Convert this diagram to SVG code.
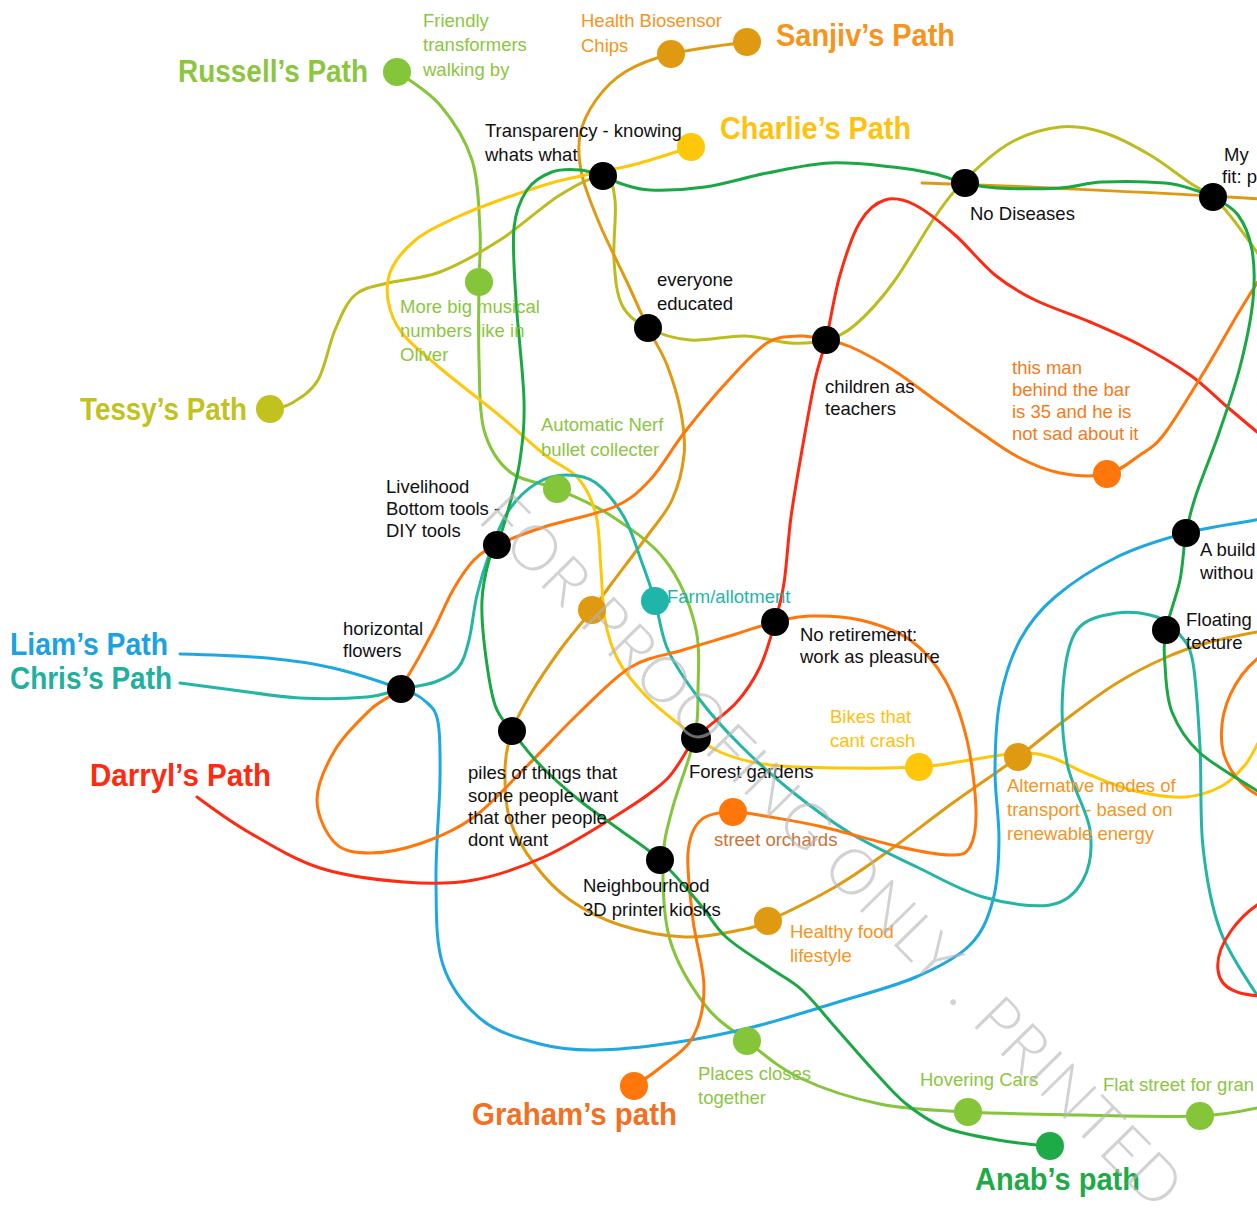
<svg xmlns="http://www.w3.org/2000/svg" width="1257" height="1208" viewBox="0 0 1257 1208">
<style>
.ln{fill:none;stroke-width:3;stroke-linecap:round;stroke-linejoin:round}
.russell{stroke:#84c53a}.tessy{stroke:#bcbc1e}.sanjiv{stroke:#df9a12}.charlie{stroke:#ffc70a}
.liam{stroke:#1ea8e1}.chris{stroke:#23b5a6}.darryl{stroke:#ff2a12}.graham{stroke:#ff760a}.anab{stroke:#1aa845}
.k{fill:#000}
text{font-family:"Liberation Sans",Arial,sans-serif}
.s{font-size:18.5px}
.t{font-size:31px;font-weight:bold}
.cb{fill:#111}.clg{fill:#8cc63f}.cor{fill:#f7941d}.cyl{fill:#fdc010}.ctl{fill:#1fb5a8}
.wm{font-family:"Lato","Liberation Sans",sans-serif;font-weight:300;font-size:63px;letter-spacing:1px;fill:#b4b4b4;fill-opacity:0.6}
</style>
<rect width="1257" height="1208" fill="#fff"/>
<g id="connectors">
<path id="p-russell" class="ln russell" d="M397,72 C397,72 427.5,90.3 440,105 S465.3,139.2 472,160 S478.8,209.7 480,230 S479.2,260.3 479,282 S478.2,335.3 479,360 S478.8,411.3 484,430 S497.8,462.2 510,472 S540.3,481.8 557,489 S592,503.2 610,515 S650.8,541.7 665,560 S689.5,603.3 695,625 S698.2,670.8 698,690 S698.3,720 694,740 S677.2,789.7 672,810 S663.3,840.3 663,862 S663,916.2 670,940 S692.2,988.2 705,1005 S731.2,1028.8 747,1041 S777.8,1067.5 800,1078 S852,1098.3 880,1104 S934.7,1110.2 968,1112 S1041.3,1114.3 1080,1115 S1170.5,1117.2 1200,1116 S1257,1108 1262,1107"/>
<path id="p-tessy" class="ln tessy" d="M270,409 C270,409 284,407.8 292,403 S310.8,392.2 318,380 S328.8,344.2 335,330 S346.2,302.8 355,295 S373.8,286.8 388,283 S421.3,279.2 440,272 S480,252.8 500,240 S542.8,205.7 560,195 S593.8,175.2 603,176 S613.2,186 615,200 S612.8,242.5 614,260 S616.3,293.7 622,305 S636.7,322.2 648,328 S673.8,338.7 690,340 S728.3,335.5 745,336 S776.5,342.3 790,343 S815.2,343 826,340 S843.8,334.5 855,325 S879.7,301 893,283 S923,234.2 935,217 S952.5,192.3 965,180 S994.2,151.8 1010,143 S1044.2,128.7 1060,127 S1090,128.3 1105,133 S1135.8,146.7 1150,155 S1179.5,176 1190,183 S1206,191.2 1213,197 S1224.7,208.8 1232,218 S1257,252 1262,260"/>
<path id="p-sanjiv" class="ln sanjiv" d="M747,42 C747,42 691.3,49 671,54 S637.5,64.3 625,72 S603.5,89.5 596,100 S582.3,122.5 580,135 S578.7,160 582,175 S592.5,207.2 600,225 S619,264.8 627,282 S641.3,314.2 648,328 S661.5,350.8 667,365 S678.2,398 681,413 S685.5,440.5 684,455 S678,486.7 672,500 S658,521.2 648,535 S621.3,570.5 612,583 S600.7,598.8 592,610 S570.3,635.8 560,650 S538,681.5 530,695 S516.2,718.5 512,731 S505.3,755.2 505,770 S505,804.2 510,820 S525,851.7 535,865 S555.8,890 570,900 S600.8,918.8 620,925 S665,936.2 685,937 S726.2,932.7 740,930 S752.2,928.2 768,921 S814.7,898.8 835,887 S870.8,863.7 890,850 S928.7,820.5 950,805 S998.8,771.2 1018,757 S1048.5,732.3 1065,720 S1100,693.5 1117,683 S1151.5,663.8 1167,657 S1195,646.2 1210,642 S1257,632 1262,631"/>
<path id="p-sanjiv-b" class="ln sanjiv" d="M922,183 C990,185 1150,192 1262,199"/>
<path id="p-charlie" class="ln charlie" d="M691,147 C691,147 655.2,158.8 640,163 S614.2,168.8 600,172 S571.7,177.3 555,182 S516.7,194 500,200 S468.7,211.7 455,218 S428.5,229.7 418,238 S397,257.7 392,268 S386.3,289.2 388,300 S393.3,321.7 402,333 S423.7,354.2 440,368 S482.5,401.5 500,416 S532,444.7 545,455 S569.5,468 578,478 S592.2,499.7 596,515 S599.5,552.5 601,570 S602.2,605 605,620 S611.3,647.5 618,660 S634.7,684.2 645,695 S667.5,715.5 680,725 S705,745.3 720,752 S749,762.3 770,765 S821.2,767.7 846,768 S898.3,768.3 919,767 S953.5,762.3 970,760 S1004.7,753.5 1018,753 S1038,753.3 1050,757 S1075.8,769.3 1090,775 S1119.2,787.3 1135,791 S1170.5,797.8 1185,797 S1212,791.3 1222,786 S1239.2,771.8 1245,765 S1257,745 1262,735"/>
<path id="p-liam" class="ln liam" d="M180,654 C180,654 241.5,655.7 267,658 S310.7,662.8 333,668 S385.7,683.5 401,689 S418.8,695.5 425,701 S435.5,708.8 438,722 S440.3,753.7 440,780 S435.5,849.2 436,880 S435.3,941.7 443,965 S465.8,1006.8 482,1020 S521.2,1039 540,1044 S573,1050.2 595,1050 S645.7,1046.8 672,1043 S725.8,1033.7 753,1027 S807.8,1011.3 835,1003 S893.5,986.7 916,977 S957.2,957.8 970,945 S988.2,917.5 993,900 S998.7,861.7 999,840 S994.8,793.3 995,770 S995.8,721.7 1000,700 S1010.8,657.2 1020,640 S1038.8,610.8 1055,597 S1095.2,567.7 1117,557 S1162.7,539.2 1186,533 S1257,520 1262,519"/>
<path id="p-chris" class="ln chris" d="M180,683 C180,683 213,687.5 233,690 S277.7,696.8 300,698 S350.2,698.5 367,697 S389.7,691.5 401,689 S425.5,685.5 435,682 S452.3,675 458,668 S465.8,652.2 469,640 S473.5,609.7 477,595 S484.7,566.2 490,552 S501.2,521.5 509,510 S527.3,488.8 537,483 S557.2,475 567,475 S586.5,476 596,483 S616.5,504.2 624,517 S635.8,546 641,560 S650.5,586 655,601 S660.5,633.5 668,650 S688,684.2 700,700 S725,730 740,745 S771.7,775.3 790,790 S828.8,820.2 850,833 S894.8,856.3 917,867 S960.8,890.7 983,897 S1033.3,907.8 1050,905 S1076.3,892.5 1083,880 S1092.7,849.5 1090,830 S1071.5,786.8 1067,763 S1061.3,709.2 1063,687 S1068,642.3 1077,630 S1103.7,615.2 1117,613 S1146.5,613.3 1157,617 S1174,627.3 1180,635 S1189.7,644.3 1193,663 S1198.3,716.3 1200,747 S1199.7,816.5 1203,847 S1211,905.3 1220,930 S1257,995 1262,1002"/>
<path id="p-darryl" class="ln darryl" d="M197,797 C197,797 229.5,821.2 250,833 S294.3,859.8 320,868 S378.3,880 404,882 S450.7,884.2 474,880 S520.7,867.5 544,857 S593.7,829.8 614,817 S652.3,793.2 666,780 S684.3,750.8 696,738 S725.3,714.8 736,703 S753.5,680.5 760,667 S771,636 775,622 S781.3,600.5 784,583 S788,539.2 791,517 S798,472.8 802,450 S811,398.3 815,380 S821.8,357.5 826,340 S834.3,294.7 840,275 S852.5,234.5 860,222 S875.8,202.8 885,200 S903.3,199.2 915,205 S941.7,223.3 955,235 S981.7,264.2 995,275 S1019.2,292.2 1035,300 S1072.5,314.5 1090,322 S1123.3,336.2 1140,345 S1175.8,365 1190,375 S1213.8,395.5 1225,405 S1257,432 1262,436"/>
<path id="p-darryl-b" class="ln darryl" d="M1262,902 C1240,915 1215,945 1218,970 C1220,990 1240,995 1262,996"/>
<path id="p-graham" class="ln graham" d="M634,1086 C634,1086 651.2,1075.2 661,1067 S685.8,1050.3 693,1037 S704,1006.5 704,987 S695.7,942.3 693,920 S686.7,869.7 688,853 S693.5,826.8 701,820 S721.5,812.5 733,812 S755,814.5 770,817 S801.3,822 823,827 S878.8,842.3 900,847 S938.3,855 950,855 S965.7,854.5 970,847 S976.5,827.8 976,810 S972.2,761.7 967,740 S954.5,696.7 945,680 S924.2,650 910,640 S876.7,624 860,620 S824.2,615.7 810,616 S787.3,619 775,622 S751.3,629.3 736,634 S700.5,644.5 683,650 S648.3,656.5 631,667 S596.5,696.3 579,713 S543.5,749.7 526,767 S491.3,804.3 474,817 S439.3,837 422,843 S384.5,853 370,853 S343.8,851.8 335,843 S317,815.5 317,800 S326.2,765 335,750 S359,720.7 370,710 S390.7,698.8 401,686 S423.3,649 432,633 S446,602.2 453,590 S466.7,567.5 474,560 S485.3,550.5 497,545 S524.5,533.3 544,527 S596.3,514.8 614,507 S638.3,492.3 650,480 S671.3,449.2 684,433 S712.2,398 726,383 S754.7,350.8 767,343 S790.2,336.5 800,336 S817.5,338.2 826,340 S839.8,342 851,347 S879,361.2 893,370 S921,390 935,400 S963.2,420.5 977,430 S1004.2,449.8 1018,457 S1045.2,470.2 1060,473 S1093.7,477 1107,474 S1130.3,461.8 1140,455 S1153.8,447.7 1165,433 S1195.2,386.3 1207,367 S1227.7,331 1236,317 S1257,283 1262,275"/>
<path id="p-graham-b" class="ln graham" d="M1262,655 C1235,675 1218,710 1222,745 C1225,770 1245,790 1262,797"/>
<path id="p-anab" class="ln anab" d="M1050,1146 C1050,1146 1015.8,1143.2 998,1140 S958.5,1133.2 943,1127 S916.7,1112.5 905,1103 S884.7,1082.7 873,1070 S846.8,1040.3 835,1027 S812.8,999.8 802,990 S782.7,976.8 770,968 S737.8,947.8 726,937 S710,915.8 699,903 S673.2,872.2 660,860 S633.5,840 620,830 S592.3,810.8 579,800 S551.2,776.5 540,765 S519.5,741 512,731 S499.5,718.5 495,705 S487.2,667.5 485,650 S481.3,615 482,600 S486.5,569.2 489,560 S493.7,553.8 497,545 S505.2,521.2 509,507 S517.5,477.8 520,460 S524.7,426.7 524,400 S517.7,328.7 516,300 S512.2,246.3 514,228 S520.7,199.3 527,190 S543.2,175.3 552,172 S571.5,169.3 580,170 S596,173.7 603,176 S614.2,181.7 622,184 S636.2,189.5 650,190 S685.5,189.8 705,187 S746.2,177 767,173 S809,164 830,163 S875.5,165.2 893,167 S923,171.3 935,174 S954.7,180.7 965,183 S981.2,187.2 997,188 S1042.5,189 1060,188 S1084.5,182.8 1102,182 S1149,181.5 1165,183 S1190,188.7 1198,191 S1206.3,193 1213,197 S1231.5,206.2 1238,215 S1249.5,235.8 1252,250 S1255,280.5 1253,300 S1245.7,344.8 1240,367 S1226.3,411.7 1219,433 S1201.5,478.3 1196,495 S1188.7,518.8 1186,533 S1183.3,563.8 1180,580 S1168.5,615.8 1166,630 S1164,651.3 1165,665 S1166.2,697.3 1172,712 S1185.8,740 1200,753 S1257,790 1262,794"/>
</g>
<g id="n-russell"><circle cx="397" cy="72" r="14" fill="#84c53a"/><text class="t clg" x="178" y="82" textLength="190" lengthAdjust="spacingAndGlyphs">Russell’s Path</text><text class="s clg" x="423" y="27">Friendly</text><text class="s clg" x="423" y="51">transformers</text><text class="s clg" x="423" y="76">walking by</text></g>
<g id="n-sanjiv"><circle cx="747" cy="42" r="14" fill="#df9a12"/><text class="t cor" x="776" y="46" textLength="179" lengthAdjust="spacingAndGlyphs">Sanjiv’s Path</text></g>
<g id="n-health"><circle cx="671" cy="54" r="14" fill="#df9a12"/><text class="s cor" x="581" y="27">Health Biosensor</text><text class="s cor" x="581" y="52">Chips</text></g>
<g id="n-charlie"><circle cx="691" cy="147" r="14" fill="#ffc70a"/><text class="t" fill="#ffc20e" x="720" y="139" textLength="191" lengthAdjust="spacingAndGlyphs">Charlie’s Path</text></g>
<g id="n-transparency"><circle cx="603" cy="176" r="14" class="k"/><text class="s cb" x="485" y="137">Transparency - knowing</text><text class="s cb" x="485" y="161">whats what</text></g>
<g id="n-nodiseases"><circle cx="965" cy="183" r="14" class="k"/><text class="s cb" x="970" y="220">No Diseases</text></g>
<g id="n-myfit"><circle cx="1213" cy="197" r="14" class="k"/><text class="s cb" x="1224" y="161">My</text><text class="s cb" x="1222" y="183">fit: p</text></g>
<g id="n-tessy"><circle cx="270" cy="409" r="14" fill="#c2c21e"/><text class="t" fill="#c2c21e" x="80" y="420" textLength="167" lengthAdjust="spacingAndGlyphs">Tessy’s Path</text></g>
<g id="n-musical"><circle cx="479" cy="282" r="14" fill="#84c53a"/><text class="s clg" x="400" y="313">More big musical</text><text class="s clg" x="400" y="337">numbers like in</text><text class="s clg" x="400" y="361">Oliver</text></g>
<g id="n-everyone"><circle cx="648" cy="328" r="14" class="k"/><text class="s cb" x="657" y="286">everyone</text><text class="s cb" x="657" y="310">educated</text></g>
<g id="n-children"><circle cx="826" cy="340" r="14" class="k"/><text class="s cb" x="825" y="393">children as</text><text class="s cb" x="825" y="415">teachers</text></g>
<g id="n-thisman"><circle cx="1107" cy="474" r="14" fill="#ff760a"/><text class="s" fill="#f47b20" x="1012" y="374">this man</text><text class="s" fill="#f47b20" x="1012" y="396">behind the bar</text><text class="s" fill="#f47b20" x="1012" y="418">is 35 and he is</text><text class="s" fill="#f47b20" x="1012" y="440">not sad about it</text></g>
<g id="n-nerf"><circle cx="557" cy="489" r="14" fill="#84c53a"/><text class="s clg" x="541" y="431">Automatic Nerf</text><text class="s clg" x="541" y="456">bullet collecter</text></g>
<g id="n-livelihood"><circle cx="497" cy="545" r="14" class="k"/><text class="s cb" x="386" y="493">Livelihood</text><text class="s cb" x="386" y="515">Bottom tools -</text><text class="s cb" x="386" y="537">DIY tools</text></g>
<g id="n-abuild"><circle cx="1186" cy="533" r="14" class="k"/><text class="s cb" x="1200" y="556">A build</text><text class="s cb" x="1200" y="579">withou</text></g>
<g id="n-farm"><circle cx="655" cy="601" r="14" fill="#1fb5a8"/><text class="s ctl" x="667" y="603">Farm/allotment</text></g>
<g id="n-gold"><circle cx="592" cy="610" r="14" fill="#df9a12"/></g>
<g id="n-floating"><circle cx="1166" cy="630" r="14" class="k"/><text class="s cb" x="1186" y="626">Floating</text><text class="s cb" x="1186" y="649">tecture</text></g>
<g id="n-horizontal"><circle cx="401" cy="689" r="14" class="k"/><text class="s cb" x="343" y="635">horizontal</text><text class="s cb" x="343" y="657">flowers</text></g>
<g id="n-noretirement"><circle cx="775" cy="622" r="14" class="k"/><text class="s cb" x="800" y="641">No retirement:</text><text class="s cb" x="800" y="663">work as pleasure</text></g>
<g id="n-liam"><text class="t" fill="#1aa3e0" x="10" y="655" textLength="158" lengthAdjust="spacingAndGlyphs">Liam’s Path</text></g>
<g id="n-chris"><text class="t" fill="#1fb09f" x="10" y="689" textLength="162" lengthAdjust="spacingAndGlyphs">Chris’s Path</text></g>
<g id="n-piles"><circle cx="512" cy="731" r="14" class="k"/><text class="s cb" x="468" y="779">piles of things that</text><text class="s cb" x="468" y="802">some people want</text><text class="s cb" x="468" y="824">that other people</text><text class="s cb" x="468" y="846">dont want</text></g>
<g id="n-forest"><circle cx="696" cy="738" r="15" class="k"/><text class="s cb" x="689" y="778">Forest gardens</text></g>
<g id="n-bikes"><circle cx="919" cy="767" r="14" fill="#ffc70a"/><text class="s cyl" x="830" y="723">Bikes that</text><text class="s cyl" x="830" y="747">cant crash</text></g>
<g id="n-alt"><circle cx="1018" cy="757" r="14" fill="#df9a12"/><text class="s cor" x="1007" y="792">Alternative modes of</text><text class="s cor" x="1007" y="816">transport - based on</text><text class="s cor" x="1007" y="840">renewable energy</text></g>
<g id="n-darryl"><text class="t" fill="#ff2a10" x="90" y="786" textLength="181" lengthAdjust="spacingAndGlyphs">Darryl’s Path</text></g>
<g id="n-orchards"><circle cx="733" cy="812" r="14" fill="#ff760a"/><text class="s" fill="#c8733a" x="714" y="846">street orchards</text></g>
<g id="n-neighbourhood"><circle cx="660" cy="860" r="14" class="k"/><text class="s cb" x="583" y="892">Neighbourhood</text><text class="s cb" x="583" y="916">3D printer kiosks</text></g>
<g id="n-healthy"><circle cx="768" cy="921" r="14" fill="#df9a12"/><text class="s cor" x="790" y="938">Healthy food</text><text class="s cor" x="790" y="962">lifestyle</text></g>
<g id="n-places"><circle cx="747" cy="1041" r="14" fill="#84c53a"/><text class="s clg" x="698" y="1080">Places closes</text><text class="s clg" x="698" y="1104">together</text></g>
<g id="n-graham"><circle cx="634" cy="1086" r="14" fill="#ff760a"/><text class="t" fill="#f36f21" x="472" y="1125" textLength="205" lengthAdjust="spacingAndGlyphs">Graham’s path</text></g>
<g id="n-hovering"><circle cx="968" cy="1112" r="14" fill="#84c53a"/><text class="s clg" x="920" y="1086">Hovering Cars</text></g>
<g id="n-flat"><circle cx="1200" cy="1116" r="14" fill="#84c53a"/><text class="s clg" x="1103" y="1091">Flat street for gran</text></g>
<g id="n-anab"><circle cx="1050" cy="1146" r="14" fill="#1faa48"/><text class="t" fill="#1faa48" x="975" y="1190" textLength="165" lengthAdjust="spacingAndGlyphs">Anab’s path</text></g>
<text class="wm" x="0" y="0" transform="translate(476,520) rotate(45.5)">FOR PROOFING ONLY . PRINTED</text>
</svg>
